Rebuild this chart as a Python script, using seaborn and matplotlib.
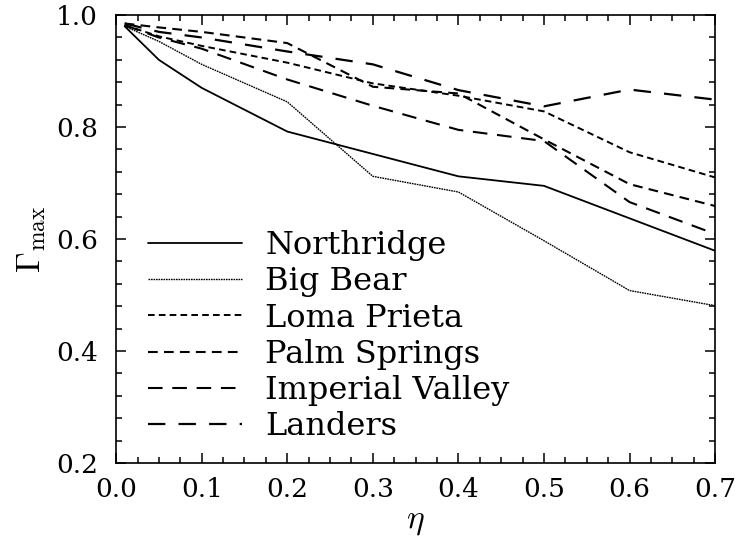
import matplotlib
matplotlib.use("Agg")
import matplotlib.pyplot as plt
import seaborn as sns
import pandas as pd
from matplotlib.ticker import MultipleLocator, FormatStrFormatter

# ---- data ----
eta = [0.01, 0.05, 0.1, 0.2, 0.3, 0.4, 0.5, 0.6, 0.7]
northridge = [0.980, 0.920, 0.870, 0.792, 0.752, 0.712, 0.695, 0.637, 0.579]
big_bear = [0.980, 0.953, 0.912, 0.845, 0.712, 0.684, 0.597, 0.508, 0.481]
loma_prieta = [0.982, 0.962, 0.945, 0.915, 0.878, 0.856, 0.828, 0.755, 0.710]
palm_springs = [0.985, 0.978, 0.970, 0.950, 0.872, 0.860, 0.778, 0.698, 0.659]
imperial_valley = [0.982, 0.960, 0.940, 0.885, 0.838, 0.795, 0.775, 0.666, 0.609]
landers = [0.985, 0.970, 0.960, 0.935, 0.912, 0.866, 0.837, 0.867, 0.849]

names = ["Northridge", "Big Bear", "Loma Prieta", "Palm Springs",
         "Imperial Valley", "Landers"]
series = [northridge, big_bear, loma_prieta, palm_springs,
          imperial_valley, landers]

x_ticks = [0.0, 0.1, 0.2, 0.3, 0.4, 0.5, 0.6, 0.7]
y_ticks = [0.2, 0.4, 0.6, 0.8, 1.0]

sns.set_theme(style="ticks")
plt.rcParams["font.family"] = ["DejaVu Serif"]
plt.rcParams["mathtext.fontset"] = "cm"
plt.rcParams["lines.scale_dashes"] = False
for key in ["text.color", "axes.labelcolor", "xtick.color", "ytick.color",
            "axes.edgecolor"]:
    plt.rcParams[key] = "black"

styles = {
    "Northridge": dict(linestyle="-", lw=1.3),
    "Big Bear": dict(linestyle=(0, (1.2, 0.6)), lw=1.0),
    "Loma Prieta": dict(linestyle=(0, (4.8, 3.0)), lw=1.4),
    "Palm Springs": dict(linestyle=(0, (7.0, 4.5)), lw=1.5),
    "Imperial Valley": dict(linestyle=(0, (10.5, 7.0)), lw=1.5),
    "Landers": dict(linestyle=(0, (12.5, 9.5)), lw=1.6),
}

frames = []
for n, v in zip(names, series):
    frames.append(pd.DataFrame({"eta": eta, "gamma": v, "quake": n}))
df = pd.concat(frames, ignore_index=True)

fig = plt.figure(figsize=(7.35, 5.39), dpi=100)
ax = fig.add_axes([0.158, 0.141, 0.815, 0.831])

for n in names:
    sub = df[df["quake"] == n]
    sns.lineplot(data=sub, x="eta", y="gamma", ax=ax, color="black",
                 label=n, **styles[n])

ax.set_xlim(0.0, 0.7)
ax.set_ylim(0.2, 1.0)
ax.set_xticks(x_ticks)
ax.set_yticks(y_ticks)
ax.xaxis.set_major_formatter(FormatStrFormatter("%.1f"))
ax.yaxis.set_major_formatter(FormatStrFormatter("%.1f"))
ax.xaxis.set_minor_locator(MultipleLocator(0.025))
ax.yaxis.set_minor_locator(MultipleLocator(0.04))
ax.tick_params(which="both", direction="in", top=True, right=True,
               color="black", labelcolor="black", width=1.1)
ax.tick_params(which="major", length=7)
ax.tick_params(which="minor", length=4)
ax.tick_params(axis="x", which="major", labelsize=19, pad=10)
ax.tick_params(axis="y", which="major", labelsize=19, pad=13)
for s in ax.spines.values():
    s.set_linewidth(1.2)
    s.set_color("black")

ax.set_xlabel(r"$\eta$", fontsize=24, labelpad=2, color="black")
ax.set_ylabel(r"$\Gamma_{\max}$", fontsize=24, labelpad=6, color="black")

leg = ax.legend(loc="upper left", bbox_to_anchor=(148 / 735, 1 - 230 / 539),
                bbox_transform=fig.transFigure, frameon=False,
                fontsize=23, handlelength=2.95, handletextpad=0.72,
                labelspacing=0.165, borderpad=0, borderaxespad=0)
for t in leg.get_texts():
    t.set_color("black")

fig.savefig("out.png", dpi=100, facecolor="white")
